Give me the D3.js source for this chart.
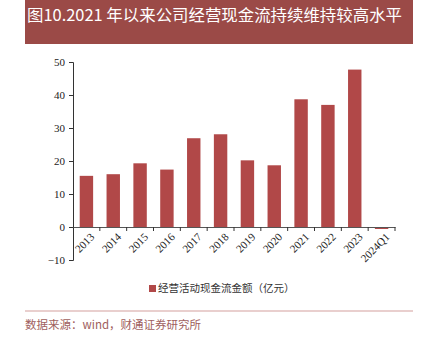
<!DOCTYPE html>
<html><head><meta charset="utf-8">
<script src="https://cdn.jsdelivr.net/npm/d3@7"></script>
<style>body{margin:0;background:#fff;}svg{display:block;}</style>
</head><body>
<script>
const categories = ["2013","2014","2015","2016","2017","2018","2019","2020","2021","2022","2023","2024Q1"];
const values = [15.5, 16.0, 19.3, 17.4, 26.9, 28.1, 20.2, 18.7, 38.7, 37.0, 47.7, -0.6];
const yTicks = [-10, 0, 10, 20, 30, 40, 50];
const seriesName = "经营活动现金流金额（亿元）";
const titleText = "图10.2021 年以来公司经营现金流持续维持较高水平";
const sourceText = "数据来源：wind，财通证券研究所";

const W = 432, H = 343;
const svg = d3.select("body").append("svg").attr("width", W).attr("height", H);
const barColor = "#b14848";
const headColor = "#9b4a47";

// header
svg.append("rect").attr("x", 25).attr("y", 0).attr("width", 388).attr("height", 44).attr("fill", headColor);
svg.append("text").attr("x", 27).attr("y", 21).attr("fill", "#fff")
  .attr("font-family", "'Noto Sans CJK SC'").attr("font-size", 16)
  .attr("textLength", 375).attr("lengthAdjust", "spacingAndGlyphs").text(titleText);

const x = d3.scaleBand().domain(categories).range([73, 395]).paddingInner(0.5).paddingOuter(0.25);
const y = d3.scaleLinear().domain([-10, 50]).range([260, 62]);

// bars
svg.append("g").selectAll("rect").data(values).join("rect")
  .attr("x", (d, i) => x(categories[i]))
  .attr("width", x.bandwidth())
  .attr("y", d => y(Math.max(0, d)))
  .attr("height", d => Math.abs(y(d) - y(0)))
  .attr("fill", barColor);

// y axis
const yAxis = svg.append("g").attr("transform", "translate(73,0)")
  .call(d3.axisLeft(y).tickValues(yTicks).tickSize(4).tickPadding(4).tickFormat(d3.format("d")));
yAxis.select(".domain").attr("stroke", "#333");
yAxis.selectAll(".tick line").attr("stroke", "#333");
yAxis.selectAll("text").attr("font-family", "'Liberation Serif'").attr("font-size", 11).attr("fill", "#222");

// x axis at zero
const xAxis = svg.append("g").attr("transform", `translate(0,${y(0)})`)
  .call(d3.axisBottom(x).tickSize(4).tickSizeOuter(0));
xAxis.select(".domain").attr("stroke", "#555").attr("stroke-width", 1.2);
xAxis.selectAll(".tick line").attr("stroke", "#333")
  .attr("transform", `translate(${x.step()/2},0)`);
xAxis.selectAll(".tick text")
  .attr("font-family", "'Liberation Serif'").attr("font-size", 11).attr("fill", "#222")
  .attr("text-anchor", "end").attr("dy", "0.35em")
  .attr("transform", "translate(6,8) rotate(-45)")
  .attr("y", 0).attr("x", 0);

// legend
svg.append("rect").attr("x", 149).attr("y", 285).attr("width", 7).attr("height", 7).attr("fill", barColor);
svg.append("text").attr("x", 158).attr("y", 292).attr("fill", "#333")
  .attr("font-family", "'Noto Sans CJK SC'").attr("font-size", 10.5).text(seriesName);

// footer
svg.append("line").attr("x1", 25).attr("x2", 413).attr("y1", 311).attr("y2", 311).attr("stroke", "#d4a09e").attr("stroke-width", 1.2);
svg.append("text").attr("x", 25).attr("y", 329).attr("fill", "#a0605d")
  .attr("font-family", "'Noto Sans CJK SC'").attr("font-size", 11.5).text(sourceText);
</script>
</body></html>
